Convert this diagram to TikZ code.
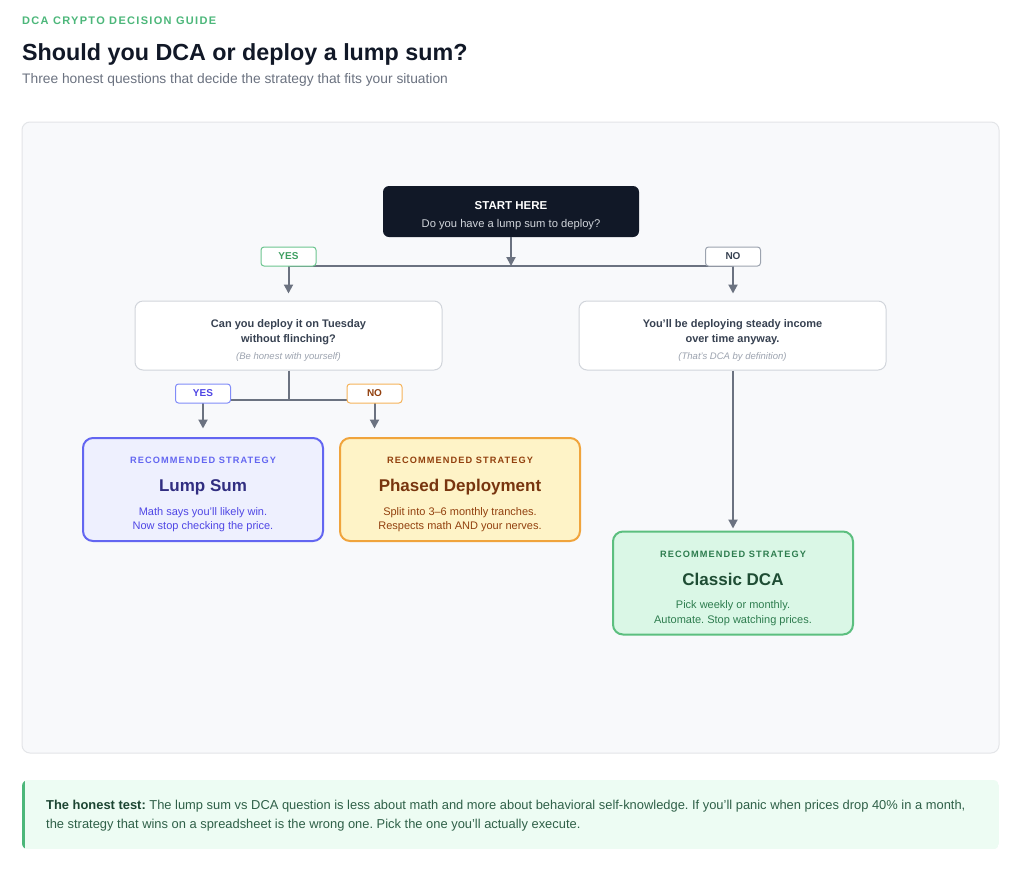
\documentclass[tikz,border=0pt]{standalone}
\usepackage{fontspec}
\setmainfont{Liberation Sans}
\newfontfamily\spaced[LetterSpace=12]{Liberation Sans}
\usetikzlibrary{arrows.meta}
\definecolor{eyebrow}{HTML}{4CB77A}
\definecolor{titlec}{HTML}{111827}
\definecolor{subc}{HTML}{6B7280}
\definecolor{panelfill}{HTML}{F8F9FB}
\definecolor{panelborder}{HTML}{E3E5E8}
\definecolor{startfill}{HTML}{111827}
\definecolor{startsub}{HTML}{D1D5DB}
\definecolor{arrowgray}{HTML}{6B7280}
\definecolor{qborder}{HTML}{D1D5DB}
\definecolor{qtext}{HTML}{374151}
\definecolor{qnote}{HTML}{9CA3AF}
\definecolor{yesgreen}{HTML}{6CC58F}
\definecolor{yesgreentext}{HTML}{3F9F62}
\definecolor{nogray}{HTML}{9CA3AF}
\definecolor{lumpfill}{HTML}{EEF0FE}
\definecolor{lumpborder}{HTML}{6366F1}
\definecolor{lumptitle}{HTML}{312E81}
\definecolor{lumptext}{HTML}{4F46E5}
\definecolor{lumptag}{HTML}{818CF8}
\definecolor{phfill}{HTML}{FEF3C7}
\definecolor{phborder}{HTML}{F0A43C}
\definecolor{phtitle}{HTML}{78350F}
\definecolor{phtext}{HTML}{92400E}
\definecolor{phtag}{HTML}{F5B35A}
\definecolor{clfill}{HTML}{DAF7E6}
\definecolor{clborder}{HTML}{5CBF7F}
\definecolor{cltitle}{HTML}{1E4D34}
\definecolor{cltext}{HTML}{2E7D4F}
\definecolor{notefill}{HTML}{EDFCF3}
\definecolor{notebar}{HTML}{4CB77A}
\definecolor{notebold}{HTML}{1C4532}
\definecolor{notetext}{HTML}{2F6048}
\newcommand\fsz[1]{\fontsize{#1}{#1}\selectfont}
\frenchspacing
\tikzset{
  conn/.style={draw=arrowgray, line width=2pt},
  arr/.style={conn, -{Triangle[length=9pt,width=9pt]}},
  qbox/.style={draw=qborder, fill=white, rounded corners=8pt, line width=1pt,
    minimum width=307pt, minimum height=69pt, inner sep=0pt},
  rbox/.style={rounded corners=10pt, line width=2pt, minimum width=240pt,
    minimum height=103pt, inner sep=0pt},
  tag/.style={draw, fill=white, rounded corners=3pt, line width=1pt,
    minimum width=55pt, minimum height=19pt, inner sep=0pt,
    font=\fsz{10}\bfseries},
  txt/.style={anchor=base, inner sep=0pt},
  rlabel/.style={txt, font=\spaced\fsz{9.2}\bfseries},
  rtitle/.style={txt, font=\fsz{17}\bfseries},
  rline/.style={txt, font=\fsz{11}},
  qline/.style={txt, font=\fsz{11}\bfseries, text=qtext},
  qnotes/.style={txt, font=\fsz{9.5}\itshape, text=qnote},
}
\begin{document}
\begin{tikzpicture}[x=1pt,y=-1pt]
\useasboundingbox (0,0) rectangle (1024,876);
\fill[white] (0,0) rectangle (1024,876);

% header
\node[anchor=base west, inner sep=0pt, font=\spaced\fsz{11}\bfseries, text=eyebrow] (eyebrow) at (22,24) {DCA CRYPTO DECISION GUIDE};
\node[anchor=base west, inner sep=0pt, font=\fsz{23.3}\bfseries, text=titlec] (title) at (22,60) {Should you DCA or deploy a lump sum?};
\node[anchor=base west, inner sep=0pt, font=\fsz{13.8}, text=subc] (subtitle) at (22,83) {Three honest questions that decide the strategy that fits your situation};

% panel
\draw[fill=panelfill, draw=panelborder, line width=1pt, rounded corners=8pt] (22,122) rectangle (999,753);

% nodes
\node[fill=startfill, rounded corners=6pt, minimum width=256pt, minimum height=51pt, inner sep=0pt] (start) at (511,211.5) {};
\node[txt, font=\fsz{11.5}\bfseries, text=white] (startt) at (511,209.5) {START HERE};
\node[txt, font=\fsz{11.2}, text=startsub] (starts) at (511,227) {Do you have a lump sum to deploy?};

\node[qbox] (q1) at (288.5,335.5) {};
\node[qline] (q1a) at (288.5,327) {Can you deploy it on Tuesday};
\node[qline] (q1b) at (288.5,342) {without flinching?};
\node[qnotes] (q1c) at (288.5,359) {(Be honest with yourself)};

\node[qbox] (q2) at (732.5,335.5) {};
\node[qline] (q2a) at (732.5,327) {You'll be deploying steady income};
\node[qline] (q2b) at (732.5,342) {over time anyway.};
\node[qnotes] (q2c) at (732.5,359) {(That's DCA by definition)};

% connectors
\coordinate (j1) at (511,266);
\coordinate (j1l) at (288.5,266);
\coordinate (j1r) at (733,266);
\draw[conn] (j1l) -- (j1r);
\draw[arr] (start.south) -- (j1);
\draw[arr] (j1l) -- ([yshift=7pt]q1.north);
\draw[arr] (j1r) -- ([yshift=7pt]q2.north -| j1r);

\coordinate (j2) at (288.5,400);
\coordinate (j2l) at (203,400);
\coordinate (j2r) at (374.5,400);
\draw[conn] (q1.south) -- (j2);
\draw[conn] (j2l) -- (j2r);

\node[rbox, fill=lumpfill, draw=lumpborder] (lump) at (203,489.5) {};
\node[rbox, fill=phfill, draw=phborder] (phased) at (460,489.5) {};
\node[rbox, fill=clfill, draw=clborder] (classic) at (733,583) {};

\draw[arr] (j2l) -- ([yshift=8.5pt]lump.north);
\draw[arr] (j2r) -- ([yshift=8.5pt]lump.north -| j2r);
\draw[arr] (q2.south -| classic.north) -- ([yshift=2pt]classic.north);

% tags
\node[tag, draw=yesgreen, text=yesgreentext] (yes1) at (288.5,256.5) {YES};
\node[tag, draw=nogray, text=qtext] (no1) at (733,256.5) {NO};
\node[tag, draw=lumptag, text=lumptext] (yes2) at (203,393.5) {YES};
\node[tag, draw=phtag, text=phtext] (no2) at (374.5,393.5) {NO};

% result texts
\node[rlabel, text=lumpborder] (lumpl) at (203,463.5) {RECOMMENDED STRATEGY};
\node[rtitle, text=lumptitle] (lumpt) at (203,491.5) {Lump Sum};
\node[rline, text=lumptext] (lump1) at (203,515) {Math says you'll likely win.};
\node[rline, text=lumptext] (lump2) at (203,529.5) {Now stop checking the price.};

\node[rlabel, text=phtext] (phl) at (460,463.5) {RECOMMENDED STRATEGY};
\node[rtitle, text=phtitle] (pht) at (460,491.5) {Phased Deployment};
\node[rline, text=phtext] (ph1) at (460,515) {Split into 3–6 monthly tranches.};
\node[rline, text=phtext] (ph2) at (460,529.5) {Respects math AND your nerves.};

\node[rlabel, text=cltext] (cll) at (733,557.5) {RECOMMENDED STRATEGY};
\node[rtitle, text=cltitle] (clt) at (733,585) {Classic DCA};
\node[rline, text=cltext] (cl1) at (733,608.5) {Pick weekly or monthly.};
\node[rline, text=cltext] (cl2) at (733,623.5) {Automate. Stop watching prices.};

% bottom note
\begin{scope}
\clip[rounded corners=6pt] (22,780) rectangle (999,849.3);
\fill[notefill] (22,780) rectangle (999,849.3);
\fill[notebar] (22,780) rectangle (25,849.3);
\end{scope}
\node[anchor=base west, inner sep=0pt, font=\fsz{12.9}, text=notetext] (note1) at (46,809.3) {\textcolor{notebold}{\bfseries The honest test:} The lump sum vs DCA question is less about math and more about behavioral self-knowledge. If you'll panic when prices drop 40\% in a month,};
\node[anchor=base west, inner sep=0pt, font=\fsz{12.9}, text=notetext] (note2) at (46,828.3) {the strategy that wins on a spreadsheet is the wrong one. Pick the one you'll actually execute.};
\end{tikzpicture}
\end{document}
